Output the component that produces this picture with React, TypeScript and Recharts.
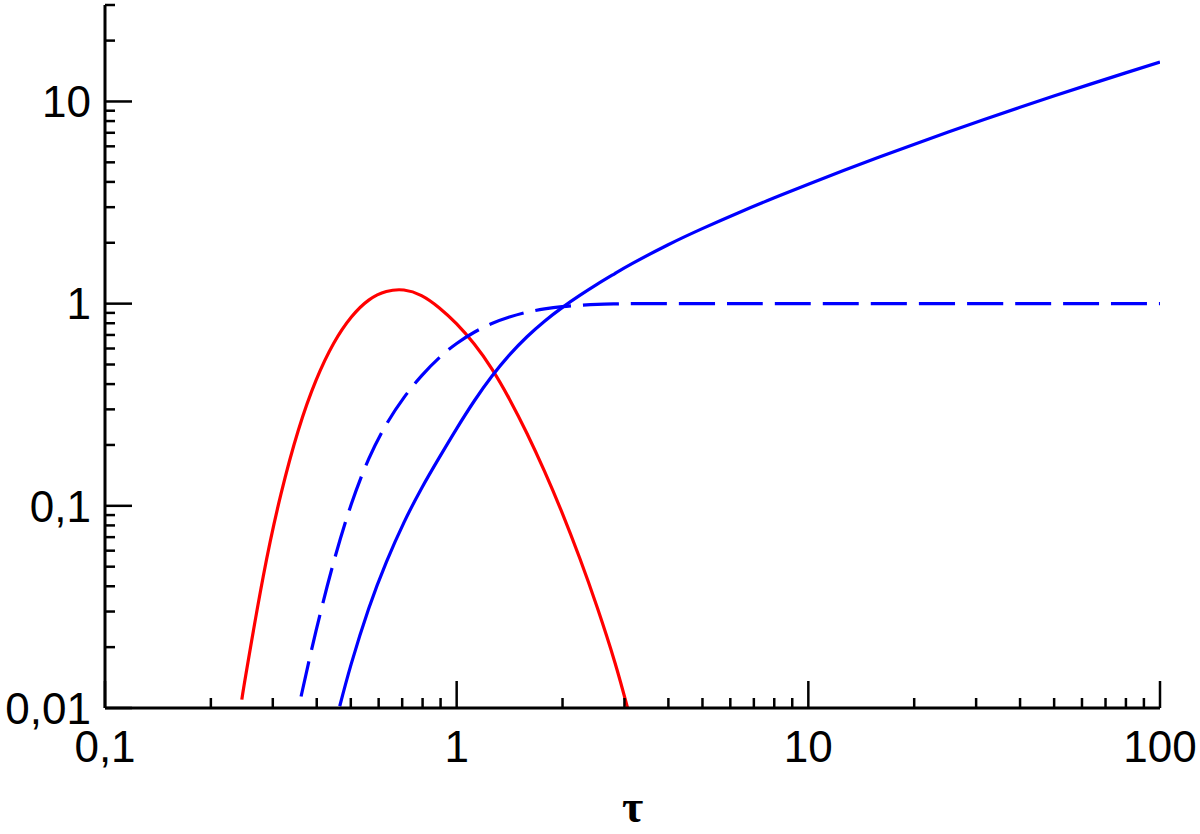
import React from "react";
import { LineChart, Line, XAxis, YAxis, Label } from "recharts";

// tick values
const xTicks = [0.1, 0.2, 0.3, 0.4, 0.5, 0.6, 0.7, 0.8, 0.9, 1, 2, 3, 4, 5, 6, 7, 8, 9, 10, 20, 30, 40, 50, 60, 70, 80, 90, 100];
const yTicks = [0.01, 0.02, 0.03, 0.04, 0.05, 0.06, 0.07, 0.08, 0.09, 0.1, 0.2, 0.3, 0.4, 0.5, 0.6, 0.7, 0.8, 0.9, 1, 2, 3, 4, 5, 6, 7, 8, 9, 10, 20, 30];

// red solid curve
const redTau = [0.245, 0.2512, 0.2818, 0.3162, 0.3548, 0.3981, 0.4467, 0.5012, 0.5623, 0.631, 0.7079, 0.7943, 0.8913, 1.0, 1.122, 1.259, 1.413, 1.585, 1.778, 1.995, 2.239, 2.512, 2.818, 3.062];
const redVal = [0.011, 0.01445, 0.0447, 0.1135, 0.237, 0.417, 0.635, 0.856, 1.041, 1.148, 1.168, 1.096, 0.955, 0.794, 0.631, 0.476, 0.337, 0.228, 0.148, 0.0923, 0.055, 0.0313, 0.0168, 0.0100];

// blue dashed curve
const dashTau = [0.361, 0.398, 0.4467, 0.5012, 0.5623, 0.631, 0.7079, 0.7943, 0.8913, 1.0, 1.122, 1.259, 1.413, 1.585, 1.778, 1.995, 2.239, 2.512, 2.818, 3.162, 3.981, 6.31, 10, 31.62, 100];
const dashVal = [0.0114, 0.024, 0.0525, 0.1014, 0.1706, 0.2529, 0.343, 0.4395, 0.5395, 0.6353, 0.722, 0.797, 0.858, 0.907, 0.942, 0.9665, 0.982, 0.992, 0.997, 1.0, 1.0, 1.0, 1.0, 1.0, 1.0];

// blue solid curve
const solidTau = [0.465, 0.5012, 0.5623, 0.631, 0.7079, 0.7943, 0.8913, 1.0, 1.122, 1.259, 1.413, 1.585, 1.778, 1.995, 2.239, 2.512, 2.818, 3.162, 3.981, 5.012, 6.31, 7.943, 10, 12.59, 15.85, 19.95, 25.12, 31.62, 39.81, 50.12, 63.1, 79.43, 100];
const solidVal = [0.0102, 0.01648, 0.03105, 0.0527, 0.0826, 0.1219, 0.1726, 0.241, 0.33, 0.437, 0.558, 0.686, 0.819, 0.956, 1.098, 1.249, 1.409, 1.581, 1.951, 2.357, 2.81, 3.319, 3.898, 4.552, 5.293, 6.133, 7.075, 8.14, 9.33, 10.66, 12.15, 13.81, 15.65];

const zip = (t: number[], v: number[]) => t.map((tau, i) => ({ tau, v: v[i] }));
const redData = zip(redTau, redVal);
const dashData = zip(dashTau, dashVal);
const solidData = zip(solidTau, solidVal);

const isMajor = (v: number) => Math.abs(Math.log10(v) - Math.round(Math.log10(v))) < 1e-9;
const fmt = (v: number) => String(v).replace(".", ",");

const FONT = "'Liberation Sans', Arial, Helvetica, sans-serif";
const MAJOR = 27;
const MINOR = 10;
const TW = 2.5;

const LeftTick = (p: any) => {
  const { x, y, payload } = p;
  const major = isMajor(payload.value);
  return (
    <g>
      <line x1={x} y1={y} x2={x + (major ? MAJOR : MINOR)} y2={y} stroke="#000" strokeWidth={TW} />
      {major && (
        <text x={x - 14} y={y} dy="0.36em" textAnchor="end" fontSize={44} fontFamily={FONT} fill="#000">
          {fmt(payload.value)}
        </text>
      )}
    </g>
  );
};

const RightTick = (p: any) => {
  const { x, y, payload } = p;
  const major = isMajor(payload.value);
  return <line x1={x} y1={y} x2={x - (major ? MAJOR : MINOR)} y2={y} stroke="#000" strokeWidth={TW} />;
};

const BottomTick = (p: any) => {
  const { x, y, payload } = p;
  const major = isMajor(payload.value);
  return (
    <g>
      <line x1={x} y1={y} x2={x} y2={y - (major ? MAJOR : MINOR)} stroke="#000" strokeWidth={TW} />
      {major && (
        <text x={x} y={y + 54} textAnchor="middle" fontSize={44} fontFamily={FONT} fill="#000">
          {fmt(payload.value)}
        </text>
      )}
    </g>
  );
};

const TopTick = (p: any) => {
  const { x, y, payload } = p;
  const major = isMajor(payload.value);
  return <line x1={x} y1={y} x2={x} y2={y + (major ? MAJOR : MINOR)} stroke="#000" strokeWidth={TW} />;
};

const TauLabel = (p: any) => {
  const vb = p.viewBox || {};
  return (
    <text
      x={vb.x + vb.width / 2}
      y={vb.y + 114}
      textAnchor="middle"
      fontSize={46}
      fontWeight="bold"
      fontFamily="'Liberation Serif', 'Times New Roman', serif"
      fill="#000"
    >
      τ
    </text>
  );
};

const axisLine = { stroke: "#000", strokeWidth: 3 };

export default function App() {
  return (
    <div style={{ position: "absolute", left: 0, top: 0, width: 1200, height: 834, background: "#fff" }}>
      <LineChart width={1200} height={834} margin={{ top: 5, right: 40, left: 10, bottom: 26 }}>
        <XAxis
          xAxisId="bottom"
          dataKey="tau"
          type="number"
          scale="log"
          domain={[0.1, 100]}
          allowDataOverflow
          ticks={xTicks}
          interval={0}
          height={100}
          tickSize={0}
          tickMargin={0}
          tickLine={false}
          axisLine={axisLine}
          tick={<BottomTick />}
        >
          <Label content={<TauLabel />} />
        </XAxis>
        <XAxis
          xAxisId="top"
          orientation="top"
          dataKey="tau"
          type="number"
          scale="log"
          domain={[0.1, 100]}
          allowDataOverflow
          ticks={xTicks}
          interval={0}
          height={0}
          tickSize={0}
          tickMargin={0}
          tickLine={false}
          axisLine={axisLine}
          tick={<TopTick />}
        />
        <YAxis
          yAxisId="left"
          type="number"
          scale="log"
          domain={[0.01, 30]}
          allowDataOverflow
          ticks={yTicks}
          interval={0}
          width={95}
          tickSize={0}
          tickMargin={0}
          tickLine={false}
          axisLine={axisLine}
          tick={<LeftTick />}
        />
        <YAxis
          yAxisId="right"
          orientation="right"
          type="number"
          scale="log"
          domain={[0.01, 30]}
          allowDataOverflow
          ticks={yTicks}
          interval={0}
          width={0}
          tickSize={0}
          tickMargin={0}
          tickLine={false}
          axisLine={axisLine}
          tick={<RightTick />}
        />
        <Line
          xAxisId="bottom"
          yAxisId="left"
          data={redData}
          dataKey="v"
          type="natural"
          stroke="#ff0000"
          strokeWidth={3.2}
          dot={false}
          isAnimationActive={false}
        />
        <Line
          xAxisId="bottom"
          yAxisId="left"
          data={dashData}
          dataKey="v"
          type="natural"
          stroke="#0000ff"
          strokeWidth={3.2}
          strokeDasharray="36 12"
          dot={false}
          isAnimationActive={false}
        />
        <Line
          xAxisId="bottom"
          yAxisId="left"
          data={solidData}
          dataKey="v"
          type="natural"
          stroke="#0000ff"
          strokeWidth={3.2}
          dot={false}
          isAnimationActive={false}
        />
      </LineChart>
    </div>
  );
}
